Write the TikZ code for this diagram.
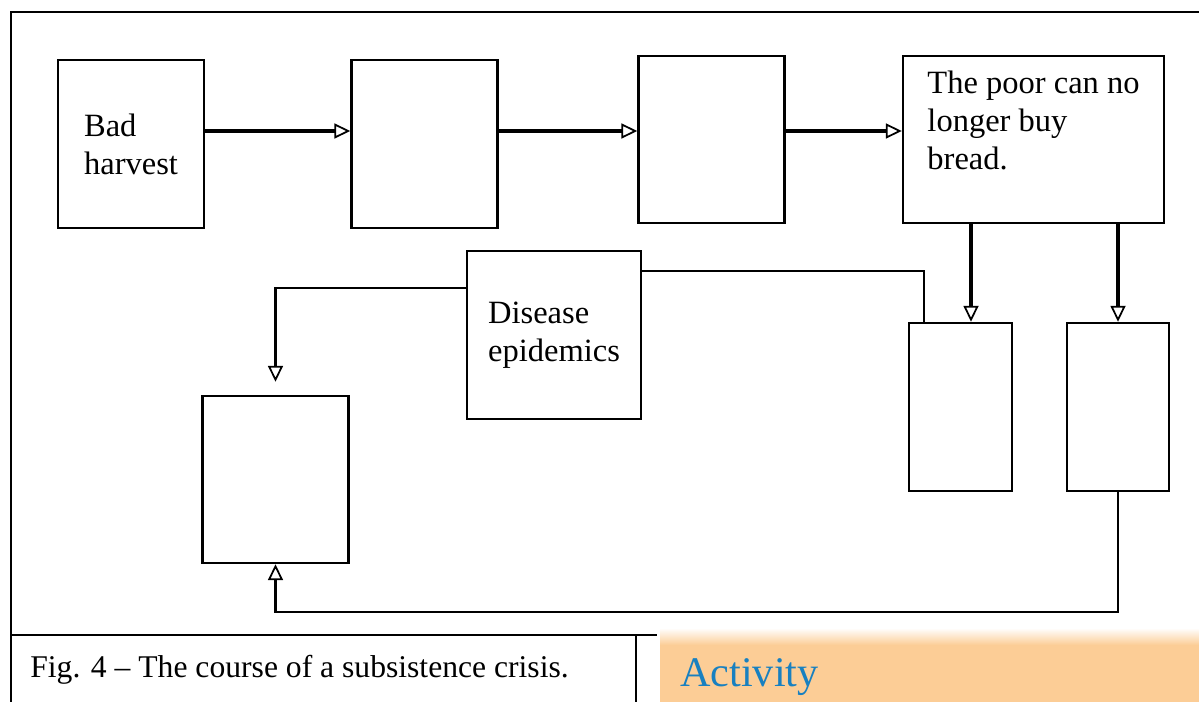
\documentclass[tikz,border=0pt]{standalone}
\usepackage{fontspec}
\setmainfont{Liberation Serif}
\usetikzlibrary{arrows.meta}

\definecolor{activityblue}{RGB}{24,128,192}
\definecolor{panelorange}{RGB}{252,205,150}

\tikzset{
  box/.style={draw, line width=1.4pt, minimum width=2.92cm, minimum height=3.36cm, inner sep=0pt,
    align=left, font=\fontsize{18.5}{21.6}\selectfont},
  flow/.style={line width=1.8pt, -{Triangle[open, length=0.32cm, width=0.3cm, line width=1pt]}},
  elbow/.style={line width=1.4pt, -{Triangle[open, length=0.32cm, width=0.3cm, line width=1pt]}},
  link/.style={line width=1.4pt},
}

\begin{document}
\begin{tikzpicture}[x=0.02cm, y=-0.02cm]
\useasboundingbox (0,0) rectangle (1199,702);

% the frame and the caption cell
\draw[link] (11,702) -- (11,12) -- (1199,12);
\draw[link] (11,635) -- (657,635);
\draw[link] (636,635) -- (636,702);

% the activity panel below
\fill[panelorange] (660,641) rectangle (1199,702);
\shade[top color=white, bottom color=panelorange] (660,628) rectangle (1199,645);
\node[anchor=base west, inner sep=0pt, text=activityblue, font=\fontsize{24}{28}\selectfont] (activity) at (680,686) {Activity};

\node[anchor=base west, inner sep=0pt, font=\fontsize{18}{21.6}\selectfont] (caption) at (30,677) {Fig. 4 -- The course of a subsistence crisis.};

% top row
\node[box] (harvest) at (131,144) {Bad\\harvest};
\node[box] (shortage) at (424.5,144) {};
\node[box, minimum height=3.34cm] (prices) at (711.5,139.5) {};
\node[box, minimum width=5.22cm, minimum height=3.34cm] (poor) at (1033.5,139.5) {The poor can no\\longer buy\\bread.\\\mbox{}};

% lower row
\node[box, minimum width=3.48cm] (disease) at (554,335) {Disease\\epidemics};
\node[box, minimum height=3.34cm] (deaths) at (275.5,479.5) {};
\node[box, minimum width=2.06cm] (weak) at (960.5,407) {};
\node[box, minimum width=2.04cm] (hunger) at (1118,407) {};

% arrows along the top
\draw[flow] ([yshift=0.26cm]harvest.east) coordinate (a1) -- (a1 -| shortage.west);
\draw[flow] ([yshift=0.26cm]shortage.east) coordinate (a2) -- (a2 -| prices.west);
\draw[flow] ([yshift=0.17cm]prices.east) coordinate (a3) -- (a3 -| poor.west);

% down from the poor
\coordinate (w1) at ([xshift=0.21cm]weak.north);
\draw[flow] (w1 |- poor.south) -- (w1);
\draw[flow] (hunger.north |- poor.south) -- (hunger.north);

% disease links
\draw[link] ([yshift=-0.42cm]disease.north east) -| ([xshift=0.32cm]weak.north west);
\draw[elbow, shorten >=0.26cm] ([yshift=-0.76cm]disease.north west) -| (deaths.north);

% back round the bottom
\draw[elbow] (hunger.south) -- ++(0,120) -| (deaths.south);

\end{tikzpicture}
\end{document}
